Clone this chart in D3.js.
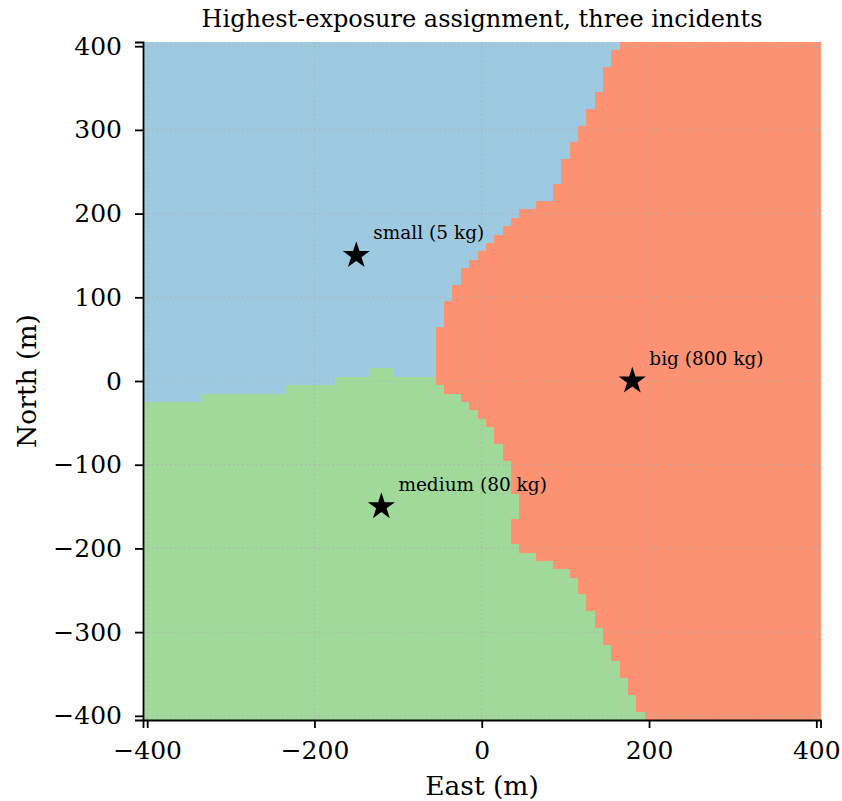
<!DOCTYPE html>
<html>
<head>
<meta charset="utf-8">
<script src="https://cdn.jsdelivr.net/npm/d3@7"></script>
<style>
  body { margin: 0; background: #fff; }
  text { font-family: "DejaVu Serif", serif; fill: #000; }
</style>
</head>
<body>
<div id="chart"></div>
<script>
var width = 842;
var height = 801;

// grid cell centres (10 m spacing)
var eastCols = d3.range(-400, 401, 10);
var northRows = d3.range(400, -401, -10);

// per row (north 400 -> -400): first east cell that belongs to "big"
var redStart = [170, 160, 160, 150, 150, 150, 140, 140, 130, 130, 120, 120, 110, 110,
  100, 100, 100, 90, 90, 70, 50, 40, 30, 20, 10, 0, -10, -20, -20, -30, -30,
  -40, -40, -40, -50, -50, -50, -50, -50, -50, -50, -40, -20, -10, 0, 10, 20, 20,
  30, 30, 40, 40, 40, 40, 50, 50, 50, 40, 40, 40, 50, 70, 90, 110, 120, 120,
  130, 130, 140, 140, 150, 150, 160, 160, 170, 170, 180, 180, 190, 190, 200];

// per column (east -400 -> 400): highest north cell that belongs to "medium"
var greenTop = [-30, -30, -30, -30, -30, -30, -30,
  -20, -20, -20, -20, -20, -20, -20, -20, -20, -20,
  -10, -10, -10, -10, -10, -10,
  0, 0, 0, 0,
  10, 10, 10,
  0, 0, 0, 0, 0,
  -10, -10, -10, -10, -10, -10, -10, -10, -10, -10, -10, -10, -10, -10, -10, -10,
  -10, -10, -10, -10, -10, -10, -10, -10, -10, -10, -10, -10, -10, -10, -10, -10,
  -10, -10, -10, -10, -10, -10, -10, -10, -10, -10, -10, -10, -10, -10];

var incidentNames = ["small (5 kg)", "medium (80 kg)", "big (800 kg)"];
var incidentEast = [-150, -120, 180];
var incidentNorth = [150, -150, 0];
var zoneColors = ["#9ecae1", "#a1d99b", "#fc9272"];

var xTicks = [-400, -200, 0, 200, 400];
var yTicks = [-400, -300, -200, -100, 0, 100, 200, 300, 400];

var x = d3.scaleLinear().domain([-405, 405]).range([143, 820.5]);
var y = d3.scaleLinear().domain([-405, 405]).range([720, 42]);

var svg = d3.select("#chart")
            .append("svg")
              .attr("width", width)
              .attr("height", height);

// build cells
var cells = [];
northRows.forEach(function(n, r) {
  eastCols.forEach(function(e, c) {
    var zone;
    if (e >= redStart[r]) zone = 2;
    else if (n <= greenTop[c]) zone = 1;
    else zone = 0;
    cells.push({ e: e, n: n, zone: zone });
  });
});

svg.append("g")
   .attr("shape-rendering", "crispEdges")
   .selectAll("rect")
   .data(cells)
   .enter()
   .append("rect")
    .attr("x", function(d) { return x(d.e - 5); })
    .attr("y", function(d) { return y(d.n + 5); })
    .attr("width", x(10) - x(0) + 0.5)
    .attr("height", y(0) - y(10) + 0.5)
    .attr("fill", function(d) { return zoneColors[d.zone]; });

// dotted grid
var grid = svg.append("g")
   .attr("stroke", "#b0b0b0")
   .attr("stroke-width", 1.2)
   .attr("stroke-dasharray", "1.5,3")
   .attr("opacity", 0.8);
grid.selectAll("line.gx")
   .data(xTicks)
   .enter()
   .append("line")
    .attr("x1", function(d) { return x(d); })
    .attr("x2", function(d) { return x(d); })
    .attr("y1", 42)
    .attr("y2", 720);
grid.selectAll("line.gy")
   .data(yTicks)
   .enter()
   .append("line")
    .attr("y1", function(d) { return y(d); })
    .attr("y2", function(d) { return y(d); })
    .attr("x1", 143)
    .attr("x2", 820.5);

// axes
var fmt = function(d) { return d < 0 ? "\u2212" + Math.abs(d) : String(d); };

var xAxis = svg.append("g")
   .attr("transform", "translate(0,720)")
   .call(d3.axisBottom(x).tickValues(xTicks).tickFormat(fmt).tickSize(8).tickPadding(13));
var yAxis = svg.append("g")
   .attr("transform", "translate(143,0)")
   .call(d3.axisLeft(y).tickValues(yTicks).tickFormat(fmt).tickSize(8).tickPadding(13));

[xAxis, yAxis].forEach(function(a) {
  a.select(".domain").attr("stroke", "#000").attr("stroke-width", 1.8);
  a.selectAll(".tick line").attr("stroke", "#000").attr("stroke-width", 1.8);
  a.selectAll(".tick text")
   .attr("font-family", "DejaVu Serif")
   .attr("font-size", "25px")
   .attr("fill", "#000");
});

// incidents
var star = d3.symbol().type(d3.symbolStar).size(230);
svg.selectAll("path.star")
   .data(incidentNames)
   .enter()
   .append("path")
    .attr("d", star)
    .attr("transform", function(d, i) {
      return "translate(" + x(incidentEast[i]) + "," + y(incidentNorth[i]) + ")";
    })
    .attr("fill", "#000");

svg.selectAll("text.lbl")
   .data(incidentNames)
   .enter()
   .append("text")
   .text(function(d) { return d; })
    .attr("x", function(d, i) { return x(incidentEast[i]) + 17; })
    .attr("y", function(d, i) { return y(incidentNorth[i]) - 16; })
    .attr("font-size", "18.5px");

// titles
svg.append("text")
   .text("Highest-exposure assignment, three incidents")
   .attr("x", 482)
   .attr("y", 27)
   .attr("text-anchor", "middle")
   .attr("font-size", "24px");

svg.append("text")
   .text("East (m)")
   .attr("x", 482)
   .attr("y", 795)
   .attr("text-anchor", "middle")
   .attr("font-size", "26.5px");

svg.append("text")
   .text("North (m)")
   .attr("transform", "translate(36,381) rotate(-90)")
   .attr("text-anchor", "middle")
   .attr("font-size", "26.5px");
</script>
</body>
</html>
